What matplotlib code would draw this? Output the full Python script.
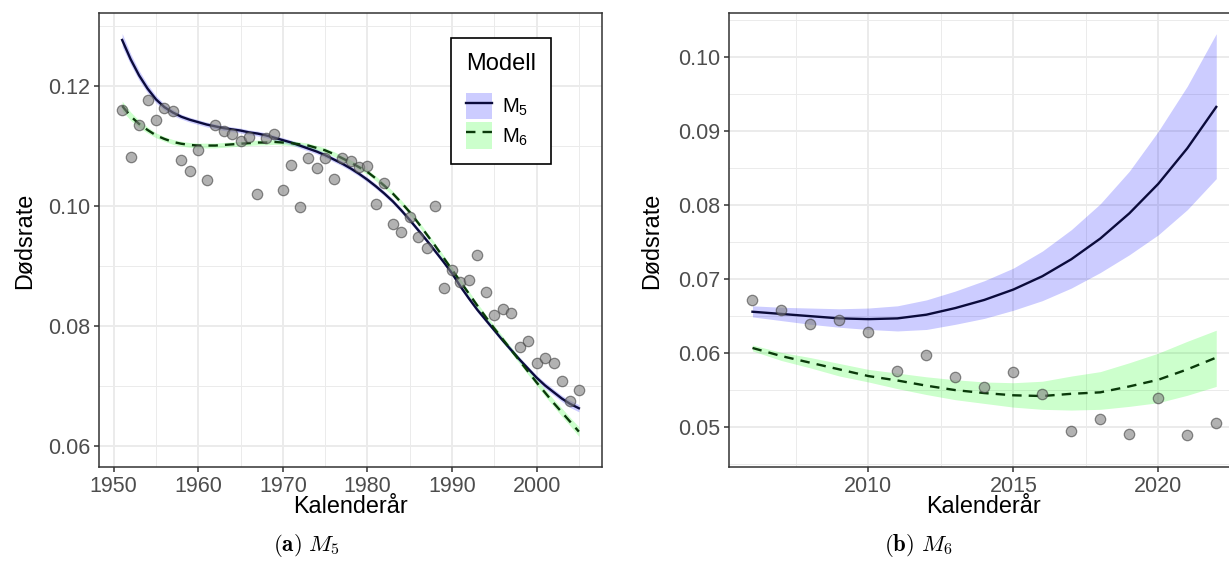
import numpy as np
import matplotlib.pyplot as plt
from matplotlib.patches import Patch
from matplotlib.lines import Line2D
from matplotlib.ticker import MultipleLocator

plt.rcParams['font.family'] = ['Liberation Sans', 'DejaVu Sans']
plt.rcParams['mathtext.fontset'] = 'custom'
plt.rcParams['mathtext.rm'] = 'Liberation Sans'
plt.rcParams['mathtext.it'] = 'Liberation Sans:italic'
plt.rcParams['mathtext.bf'] = 'Liberation Sans:bold'

# --- (a) 1951-2005: observed death rates and fitted curves ---
years_a = np.arange(1951, 2006)
obs_a = [0.1161, 0.1082, 0.1136, 0.1177, 0.1143, 0.1164, 0.1158, 0.1077, 0.1058, 0.1094,
         0.1043, 0.1136, 0.1126, 0.1120, 0.1109, 0.1115, 0.1021, 0.1114, 0.1121, 0.1027,
         0.1069, 0.0998, 0.1080, 0.1063, 0.1080, 0.1046, 0.1080, 0.1076, 0.1066, 0.1067,
         0.1003, 0.1038, 0.0971, 0.0957, 0.0982, 0.0949, 0.0931, 0.1001, 0.0864, 0.0894,
         0.0874, 0.0877, 0.0918, 0.0857, 0.0818, 0.0828, 0.0822, 0.0765, 0.0775, 0.0738,
         0.0746, 0.0739, 0.0709, 0.0675, 0.0693]
m5_a = [0.1277, 0.1245, 0.1218, 0.1196, 0.1178, 0.1165, 0.1156, 0.1149, 0.1144, 0.1140,
        0.1136, 0.1133, 0.1130, 0.1128, 0.1126, 0.1123, 0.1121, 0.1118, 0.1114, 0.1110,
        0.1106, 0.1101, 0.1096, 0.1091, 0.1085, 0.1078, 0.1071, 0.1063, 0.1054, 0.1044,
        0.1033, 0.1021, 0.1008, 0.0993, 0.0977, 0.0960, 0.0943, 0.0925, 0.0907, 0.0888,
        0.0866, 0.0846, 0.0827, 0.0810, 0.0793, 0.0776, 0.0760, 0.0744, 0.0729, 0.0714,
        0.0701, 0.0690, 0.0679, 0.0670, 0.0663]
m5_a_hw = [0.0011, 0.0009, 0.0008, 0.0007, 0.0006, 0.0005, 0.0005, 0.0004, 0.0004, 0.0004,
           0.0004, 0.0004, 0.0004, 0.0004, 0.0004, 0.0004, 0.0004, 0.0004, 0.0004, 0.0004,
           0.0004, 0.0004, 0.0004, 0.0004, 0.0004, 0.0004, 0.0004, 0.0004, 0.0004, 0.0004,
           0.0004, 0.0004, 0.0004, 0.0004, 0.0004, 0.0004, 0.0004, 0.0004, 0.0004, 0.0004,
           0.0004, 0.0004, 0.0004, 0.0004, 0.0004, 0.0004, 0.0004, 0.0004, 0.0004, 0.0004,
           0.0005, 0.0005, 0.0005, 0.0006, 0.0006]
m6_a = [0.1167, 0.1150, 0.1137, 0.1127, 0.1118, 0.1112, 0.1107, 0.1104, 0.1102, 0.1101,
        0.1101, 0.1101, 0.1102, 0.1103, 0.1104, 0.1105, 0.1106, 0.1106, 0.1107, 0.1106,
        0.1105, 0.1103, 0.1101, 0.1097, 0.1093, 0.1087, 0.1080, 0.1073, 0.1065, 0.1057,
        0.1046, 0.1034, 0.1021, 0.1006, 0.0990, 0.0972, 0.0953, 0.0934, 0.0914, 0.0894,
        0.0874, 0.0854, 0.0834, 0.0815, 0.0796, 0.0778, 0.0760, 0.0742, 0.0724, 0.0706,
        0.0689, 0.0672, 0.0656, 0.0640, 0.0624]
m6_a_hw = [0.0008, 0.0007, 0.0006, 0.0005, 0.0004, 0.0004, 0.0004, 0.0004, 0.0004, 0.0004,
           0.0004, 0.0004, 0.0004, 0.0004, 0.0004, 0.0004, 0.0004, 0.0004, 0.0004, 0.0004,
           0.0004, 0.0004, 0.0004, 0.0004, 0.0004, 0.0004, 0.0004, 0.0004, 0.0004, 0.0004,
           0.0004, 0.0004, 0.0004, 0.0004, 0.0004, 0.0004, 0.0004, 0.0004, 0.0004, 0.0004,
           0.0004, 0.0004, 0.0004, 0.0004, 0.0005, 0.0005, 0.0005, 0.0005, 0.0005, 0.0005,
           0.0006, 0.0006, 0.0007, 0.0007, 0.0008]

# --- (b) 2006-2022: observed rates and model forecasts with intervals ---
years_b = np.arange(2006, 2023)
obs_b = [0.0672, 0.0658, 0.0640, 0.0645, 0.0628, 0.0576, 0.0598, 0.0568, 0.0554,
         0.0574, 0.0545, 0.0495, 0.0511, 0.0490, 0.0539, 0.0489, 0.0506]
m5_b = [0.0656, 0.0653, 0.0650, 0.0647, 0.0646, 0.0647, 0.0652, 0.0661, 0.0672,
        0.0686, 0.0704, 0.0727, 0.0755, 0.0789, 0.0829, 0.0877, 0.0933]
m5_b_lo = [0.0649, 0.0644, 0.0639, 0.0635, 0.0632, 0.0630, 0.0632, 0.0639, 0.0647,
           0.0658, 0.0671, 0.0688, 0.0709, 0.0733, 0.0760, 0.0794, 0.0836]
m5_b_hi = [0.0664, 0.0662, 0.0661, 0.0660, 0.0661, 0.0664, 0.0672, 0.0684, 0.0698,
           0.0715, 0.0738, 0.0767, 0.0802, 0.0846, 0.0900, 0.0961, 0.1032]
m6_b = [0.0607, 0.0596, 0.0587, 0.0578, 0.0569, 0.0563, 0.0556, 0.0550, 0.0546,
        0.0543, 0.0542, 0.0545, 0.0547, 0.0555, 0.0564, 0.0578, 0.0594]
m6_b_lo = [0.0603, 0.0590, 0.0580, 0.0569, 0.0561, 0.0552, 0.0544, 0.0537, 0.0532,
           0.0527, 0.0524, 0.0523, 0.0524, 0.0528, 0.0533, 0.0543, 0.0555]
m6_b_hi = [0.0611, 0.0601, 0.0594, 0.0586, 0.0578, 0.0573, 0.0568, 0.0564, 0.0561,
           0.0560, 0.0562, 0.0569, 0.0575, 0.0587, 0.0600, 0.0616, 0.0631]

M5_LINE = '#0b0b3b'
M6_LINE = '#0a3a0a'
M5_FILL = '#0000ff'
M6_FILL = '#00ff00'


def style_axes(ax):
    ax.set_facecolor('white')
    for s in ax.spines.values():
        s.set_color('#333333')
        s.set_linewidth(1.1)
    ax.grid(which='major', color='#ebebeb', lw=1.4)
    ax.grid(which='minor', color='#ebebeb', lw=0.7)
    ax.set_axisbelow(True)
    ax.tick_params(which='major', length=3.8, width=1.1, color='#333333',
                   labelcolor='#4d4d4d', labelsize=15.5, pad=2.5)
    ax.tick_params(which='minor', length=0)


def draw_points(ax, x, y):
    ax.scatter(x, y, s=56, facecolor='#808080', edgecolor='#404040',
               linewidth=0.9, alpha=0.6, zorder=4)


fig = plt.figure(figsize=(12.29, 5.75), dpi=100)
ax1 = fig.add_axes([0.0808, 0.1878, 0.4088, 0.7896])
ax2 = fig.add_axes([0.5934, 0.1878, 0.4151, 0.7896])

# left panel
m5a = np.array(m5_a)
m6a = np.array(m6_a)
ax1.fill_between(years_a, m5a - np.array(m5_a_hw), m5a + np.array(m5_a_hw),
                 color=M5_FILL, alpha=0.2, lw=0, zorder=1)
ax1.fill_between(years_a, m6a - np.array(m6_a_hw), m6a + np.array(m6_a_hw),
                 color=M6_FILL, alpha=0.2, lw=0, zorder=1)
ax1.plot(years_a, m5a, color=M5_LINE, lw=1.7, zorder=2)
ax1.plot(years_a, m6a, color=M6_LINE, lw=1.7, dashes=(4, 3), zorder=3)
draw_points(ax1, years_a, obs_a)
ax1.set_xlim(1948.3, 2007.7)
ax1.set_ylim(0.0565, 0.1322)
ax1.xaxis.set_major_locator(MultipleLocator(10))
ax1.xaxis.set_minor_locator(MultipleLocator(5))
ax1.yaxis.set_major_locator(MultipleLocator(0.02))
ax1.yaxis.set_minor_locator(MultipleLocator(0.01))
ax1.yaxis.set_major_formatter('{x:.2f}')
style_axes(ax1)

# right panel
ax2.fill_between(years_b, m5_b_lo, m5_b_hi, color=M5_FILL, alpha=0.2, lw=0, zorder=1)
ax2.fill_between(years_b, m6_b_lo, m6_b_hi, color=M6_FILL, alpha=0.2, lw=0, zorder=1)
ax2.plot(years_b, m5_b, color=M5_LINE, lw=1.7, zorder=2)
ax2.plot(years_b, m6_b, color=M6_LINE, lw=1.7, dashes=(4, 3), zorder=3)
draw_points(ax2, years_b, obs_b)
ax2.set_xlim(2005.2, 2022.8)
ax2.set_ylim(0.0446, 0.1060)
ax2.xaxis.set_major_locator(MultipleLocator(5))
ax2.xaxis.set_minor_locator(MultipleLocator(2.5))
ax2.yaxis.set_major_locator(MultipleLocator(0.01))
ax2.yaxis.set_minor_locator(MultipleLocator(0.005))
ax2.yaxis.set_major_formatter('{x:.2f}')
style_axes(ax2)

# legend inside the left panel
h5 = (Patch(facecolor=M5_FILL, alpha=0.2, lw=0), Line2D([], [], color=M5_LINE, lw=1.7))
h6 = (Patch(facecolor=M6_FILL, alpha=0.2, lw=0),
      Line2D([], [], color=M6_LINE, lw=1.7, dashes=(4, 3)))
leg = ax1.legend(handles=[h5, h6], labels=['M$_5$', 'M$_6$'], title='Modell',
                 loc='upper left', bbox_to_anchor=(0.700, 0.9456), borderaxespad=0,
                 fontsize=14.5, title_fontsize=17, fancybox=False, edgecolor='black',
                 framealpha=1, handlelength=1.3, handleheight=1.65, handletextpad=0.5,
                 labelspacing=0.15, borderpad=0.75, alignment='left')
leg.get_frame().set_linewidth(1.2)
leg._legend_box.sep = 13  # more room under the title

W, H = 1229, 575
for cx in (350, 984):
    fig.text(cx / W, 1 - 513 / H, 'Kalenderår', fontsize=16.8, ha='center', va='baseline')
for cx in (25, 652):
    fig.text(cx / W, 1 - 241 / H, 'Dødsrate', fontsize=16.8, rotation=90,
             ha='center', va='center')

fig.text(306 / W, 1 - 551 / H, r'$\mathbf{(a)}\ M_5$', math_fontfamily='cm',
         fontsize=16.5, ha='center', va='baseline')
fig.text(918 / W, 1 - 551 / H, r'$\mathbf{(b)}\ M_6$', math_fontfamily='cm',
         fontsize=16.5, ha='center', va='baseline')

fig.savefig('out.png', dpi=100, facecolor='white')
